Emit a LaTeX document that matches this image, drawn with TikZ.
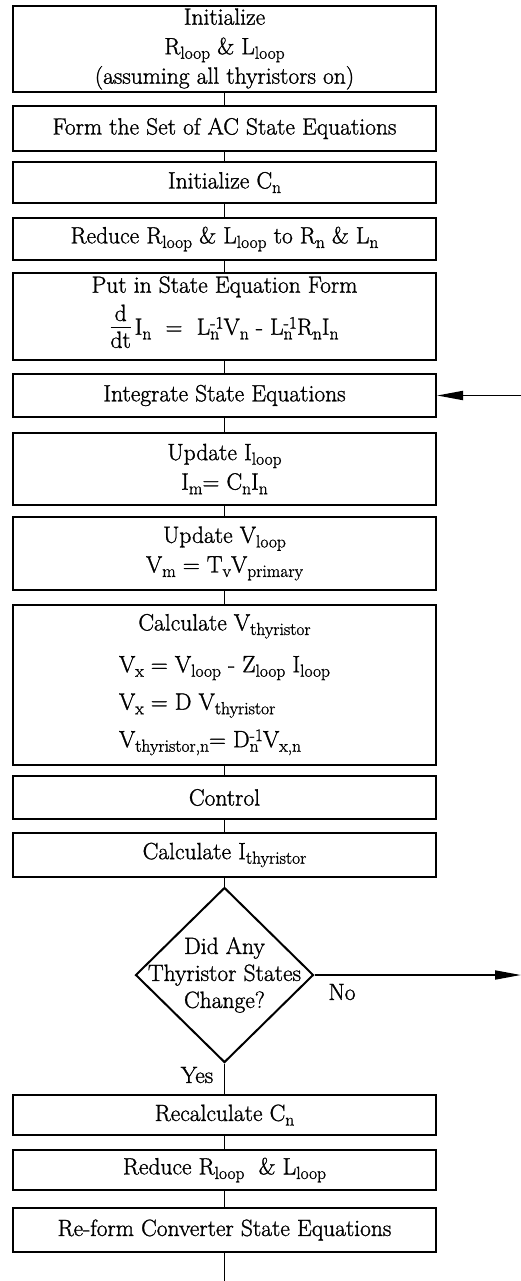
\documentclass[tikz,border=0pt]{standalone}
\usepackage{fontspec}
\setmainfont{Latin Modern Roman}[FakeBold=1.2]
\usetikzlibrary{arrows.meta,shapes.geometric}
\newcommand{\smallf}{\fontsize{17.5}{17.5}\selectfont}
\newcommand{\lo}[1]{\raisebox{-0.45ex}{\smallf #1}}
\newcommand{\supsb}[2]{\raisebox{-0.45ex}{\smallf\shortstack[l]{#1\\#2}}}
\newcommand{\ddt}{\begin{tabular}[c]{@{}c@{}}d\\[-3pt]\hline\rule{0pt}{18pt}dt\end{tabular}}
\begin{document}
\begin{tikzpicture}[x=1pt,y=-1pt,
  box/.style={draw, line width=2pt, minimum width=423pt, inner sep=2pt, align=center,
    font=\fontsize{23.5}{29.5}\selectfont},
  link/.style={line width=1.5pt},
  arr/.style={line width=1.8pt, -{Triangle[length=26pt,width=9pt]}},
  lbl/.style={font=\fontsize{23.5}{27}\selectfont, inner sep=0pt}]
\useasboundingbox (0,0) rectangle (521,1281);

\node[box, minimum height=86pt] (b1) at (224.5,49) {Initialize\\ R\lo{loop} \& L\lo{loop}\\ (assuming all thyristors on)};
\node[box, minimum height=45pt] (b2) at (224.5,128.5) {Form the Set of AC State Equations};
\node[box, minimum height=41pt] (b3) at (224.5,182.5) {Initialize C\lo{n}};
\node[box, minimum height=42pt] (b4) at (224.5,239) {Reduce R\lo{loop} \& L\lo{loop} to R\lo{n} \& L\lo{n}};
\node[box, minimum height=87pt] (b5) at (224.5,316.5) {Put in State Equation Form\\[2pt] \ddt\,I\lo{n} \ = \ L\supsb{-1}{n}V\lo{n} - L\supsb{-1}{n}R\lo{n}I\lo{n}};
\node[box, minimum height=43pt] (b6) at (224.5,395.5) {Integrate State Equations};
\node[box, minimum height=72pt] (b7) at (224.5,469) {Update I\lo{loop}\\ I\lo{m}= C\lo{n}I\lo{n}};
\node[box, minimum height=73pt] (b8) at (224.5,553.5) {Update V\lo{loop}\\ V\lo{m} = T\lo{v}V\lo{primary}};
\node[box, minimum height=160pt] (b9) at (224.5,685) {Calculate V\lo{thyristor}\\[12pt]
  \begin{tabular}{@{}l@{}}
  V\lo{x} = V\lo{loop} - Z\lo{loop} I\lo{loop}\\[8pt]
  V\lo{x} = D V\lo{thyristor}\\[8pt]
  V\lo{thyristor,n}= D\supsb{-1}{n}V\lo{x,n}
  \end{tabular}};
\node[box, minimum height=43pt] (b10) at (224.5,797.5) {Control};
\node[box, minimum height=44pt] (b11) at (224.5,855) {Calculate I\lo{thyristor}};
\node[draw, diamond, line width=2pt, minimum width=178pt, minimum height=175pt, inner sep=0pt, aspect=1] (dec) at (224.5,975) {};
\node[lbl, align=center, font=\fontsize{23.5}{27}\selectfont] (dectext) at (dec.center) {Did Any\\ Thyristor States\\ Change?};
\node[box, minimum height=40pt] (b12) at (224.5,1115) {Recalculate C\lo{n}};
\node[box, minimum height=40pt] (b13) at (224.5,1170) {Reduce R\lo{loop}\ \ \& L\lo{loop}};
\node[box, minimum height=44pt] (b14) at (224.5,1230) {Re-form Converter State Equations};

\coordinate (fbin) at (521,395.5);
\coordinate (noout) at (521,975);
\coordinate (bottom) at (224.5,1281);

\draw[link] (b1) -- (b2);
\draw[link] (b2) -- (b3);
\draw[link] (b3) -- (b4);
\draw[link] (b4) -- (b5);
\draw[link] (b5) -- (b6);
\draw[link] (b6) -- (b7);
\draw[link] (b7) -- (b8);
\draw[link] (b8) -- (b9);
\draw[link] (b9) -- (b10);
\draw[link] (b10) -- (b11);
\draw[link] (b11.south) -- (dec.north);
\draw[link] (dec.south) -- (b12.north);
\draw[link] (b12) -- (b13);
\draw[link] (b13) -- (b14);
\draw[link] (b14.south) -- (bottom);
\draw[arr] (fbin) -- (b6.east);
\draw[arr] (dec.east) -- (noout);

\node[lbl] (yes) at (197,1075) {Yes};
\node[lbl] (no) at (342,992) {No};
\end{tikzpicture}
\end{document}
